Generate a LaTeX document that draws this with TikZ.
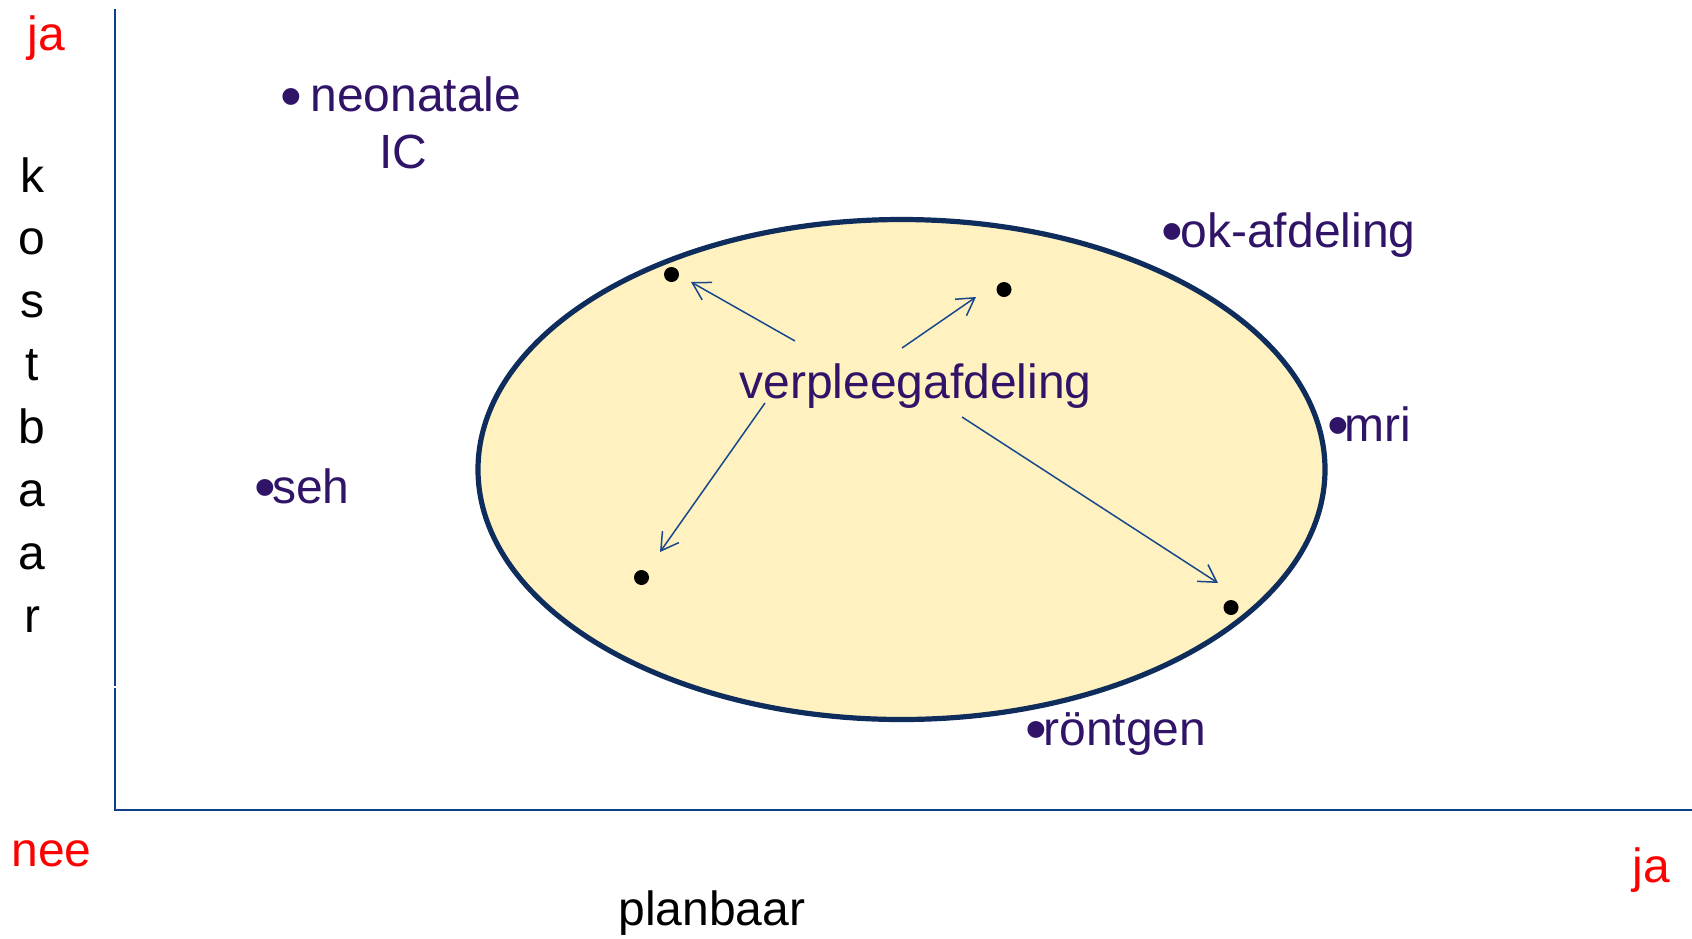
\documentclass[tikz,border=0pt]{standalone}
\usepackage{fontspec}
\setmainfont{Liberation Sans}
\usepackage{tikz}
\usetikzlibrary{arrows.meta}
\definecolor{afdpaars}{RGB}{48,20,104}
\definecolor{asblauw}{RGB}{14,64,138}
\definecolor{randblauw}{RGB}{15,45,92}
\definecolor{pijlblauw}{RGB}{24,72,140}
\definecolor{geelvlak}{RGB}{255,242,192}
\newcommand\bol[1][9pt]{\makebox[#1][l]{\raisebox{-2.8pt}{\fontsize{31}{28}\selectfont•}}}
\tikzset{
  lbl/.style={font=\fontsize{24}{28}\selectfont, inner sep=0pt, anchor=base west},
  afd/.style={lbl, text=afdpaars},
  rood/.style={lbl, text=red},
  as/.style={asblauw, line width=1.4pt},
  pijl/.style={pijlblauw, line width=0.75pt, -{Straight Barb[length=8.5pt,width=10pt,line width=0.75pt]}},
  stip/.style={circle, fill=black, inner sep=0pt, minimum size=7.5pt}
}
\begin{document}
\begin{tikzpicture}[x=0.5pt,y=-0.5pt]
    \useasboundingbox (0,0) rectangle (1692,938);
    \coordinate (top) at (115,9);
    \coordinate (knip) at (115,686);
    \coordinate (o) at (115,810);
    \coordinate (rechts) at (1692,810);
    \draw[as] (top) -- (knip);
    \draw[as] ([yshift=-1pt]knip) -- (o) -- (rechts);
    \draw[randblauw, line width=2.6pt, fill=geelvlak] (901.5,469.5) ellipse [x radius=423.5, y radius=250];
    \node[rood] (jaboven) at (27,50) {ja};
    \node[rood] (nee) at (11,866) {nee};
    \node[rood] (jarechts) at (1632,882) {ja};
    \node[lbl] (planbaar) at (618,925) {planbaar};
    \foreach \l [count=\i from 0] in {k,o,s,t,b,a,a,r}
        \node[lbl, anchor=base] (kb\i) at (32, {192+62.9*\i}) {\l};
    \node[afd] (neo) at (280,111.5) {\bol[15pt]neonatale};
    \node[afd] (ic) at (379,168) {IC};
    \node[afd] (ok) at (1161,247) {\bol[9.6pt]ok-afdeling};
    \node[afd] (mri) at (1327,441) {\bol[8.6pt]mri};
    \node[afd] (seh) at (254,503) {\bol[8.8pt]seh};
    \node[afd] (rontgen) at (1025,745) {\bol[9pt]röntgen};
    \node[afd] (vp) at (739,398) {verpleegafdeling};
    \node[stip] (d1) at (671.5,274.5) {};
    \node[stip] (d2) at (1004,289.5) {};
    \node[stip] (d3) at (641.5,577.5) {};
    \node[stip] (d4) at (1231,607.5) {};
    \coordinate (s1) at (795,341);  \coordinate (e1) at (691,282);
    \coordinate (s2) at (902,348);  \coordinate (e2) at (976,297);
    \coordinate (s3) at (765,403);  \coordinate (e3) at (660,552);
    \coordinate (s4) at (962,417);  \coordinate (e4) at (1218,583);
    \draw[pijl] (s1) -- (e1);
    \draw[pijl] (s2) -- (e2);
    \draw[pijl] (s3) -- (e3);
    \draw[pijl] (s4) -- (e4);
\end{tikzpicture}
\end{document}
